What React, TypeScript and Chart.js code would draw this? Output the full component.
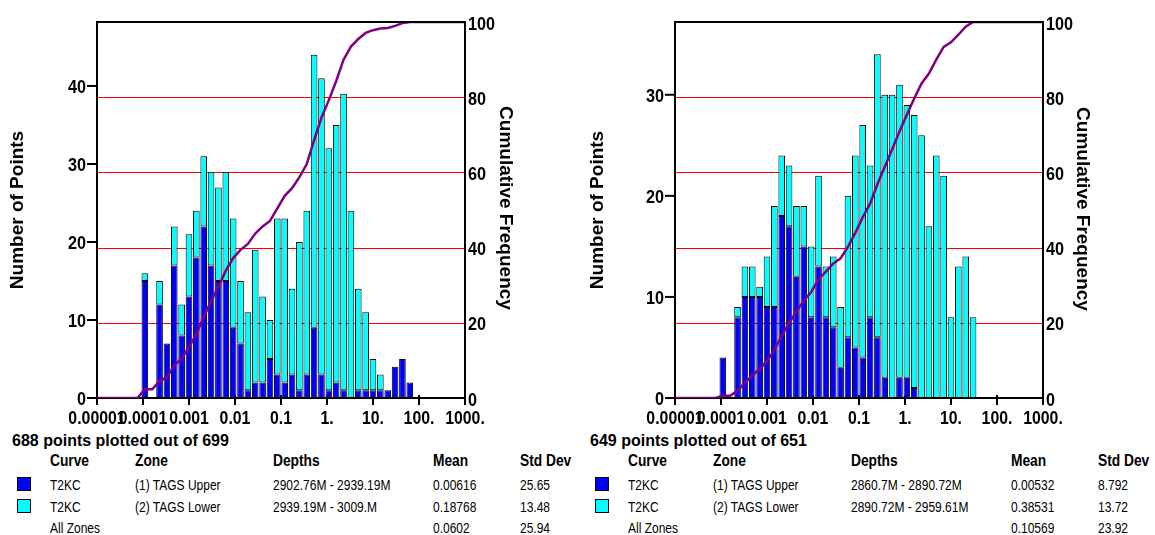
import React, { useEffect, useRef } from "react";
import { Chart, registerables } from "chart.js";

Chart.register(...registerables);

// ---- data ----
const BIN_COUNT = 50;
const X_MIN_EXP = -5;
const X_MAX_EXP = 3;

const xTickExps = [-5, -4, -3, -2, -1, 0, 1, 2, 3];
const xTickLabels = ["0.00001", "0.0001", "0.001", "0.01", "0.1", "1.", "10.", "100.", "1000."];
const cumTicks = [0, 20, 40, 60, 80, 100];
const cumGrid = [20, 40, 60, 80];

const leftCountTicks = [0, 10, 20, 30, 40];
const rightCountTicks = [0, 10, 20, 30];

// counts per log bin (50 bins from 1e-5 to 1e3)
const leftUpper = [
  0, 0, 0, 0, 0, 0, 15, 0, 12, 7,
  17, 8, 13, 18, 22, 17, 15, 15, 9, 7,
  1, 2, 2, 5, 3, 2, 3, 1, 3, 9,
  3, 1, 2, 1, 0, 1, 1, 1, 1, 1,
  4, 5, 2, 0, 0, 0, 0, 0, 0, 0,
];
const leftLower = [
  0, 0, 0, 0, 0, 0, 1, 0, 3, 0,
  5, 4, 8, 6, 9, 12, 12, 14, 14, 8,
  10, 17, 11, 5, 20, 21, 11, 19, 21, 35,
  38, 31, 33, 38, 24, 13, 10, 4, 2, 0,
  0, 0, 0, 0, 0, 0, 0, 0, 0, 0,
];
const rightUpper = [
  0, 0, 0, 0, 0, 0, 4, 0, 8, 10,
  10, 10, 9, 9, 18, 17, 12, 15, 8, 13,
  8, 7, 3, 6, 5, 4, 8, 6, 2, 0,
  2, 2, 1, 0, 0, 0, 0, 0, 0, 0,
  0, 0, 0, 0, 0, 0, 0, 0, 0, 0,
];
const rightLower = [
  0, 0, 0, 0, 0, 0, 0, 0, 1, 3,
  3, 1, 5, 10, 6, 6, 7, 4, 7, 9,
  5, 7, 6, 14, 19, 23, 15, 28, 28, 30,
  29, 27, 27, 26, 17, 24, 22, 8, 13, 14,
  8, 0, 0, 0, 0, 0, 0, 0, 0, 0,
];

const tableHeaders = ["Curve", "Zone", "Depths", "Mean", "Std Dev"];
const leftRows = [
  ["T2KC", "(1) TAGS Upper", "2902.76M - 2939.19M", "0.00616", "25.65"],
  ["T2KC", "(2) TAGS Lower", "2939.19M - 3009.M", "0.18768", "13.48"],
  ["All Zones", "", "", "0.0602", "25.94"],
];
const rightRows = [
  ["T2KC", "(1) TAGS Upper", "2860.7M - 2890.72M", "0.00532", "8.792"],
  ["T2KC", "(2) TAGS Lower", "2890.72M - 2959.61M", "0.38531", "13.72"],
  ["All Zones", "", "", "0.10569", "23.92"],
];
const leftSummary = "688 points plotted out of 699";
const rightSummary = "649 points plotted out of 651";
const rowSwatches = ["#0000FF", "#00FFFF", null];

// ---- styles / layout ----
const UPPER_COLOR = "#0000FF";
const LOWER_COLOR = "#00FFFF";
const CUM_COLOR = "#800080";
const FONT = '"Liberation Sans", Arial, Helvetica, sans-serif';
const CW = 578;
const CH = 430;
const AREA = { left: 97, right: 465, top: 22, bottom: 398 };

type PanelProps = {
  offsetX: number;
  upper: number[];
  lower: number[];
  yMax: number;
  countTicks: number[];
  leftTitleX: number;
  leftTitleY: number;
  rightTitleX: number;
  rightTitleY: number;
};

function drawScaled(ctx: CanvasRenderingContext2D, text: string, x: number, y: number, align: CanvasTextAlign, sx: number) {
  ctx.save();
  ctx.translate(x, y);
  ctx.scale(sx, 1);
  ctx.textAlign = align;
  ctx.fillText(text, 0, 0);
  ctx.restore();
}

function HistPanel(p: PanelProps) {
  const ref = useRef<HTMLCanvasElement>(null);
  useEffect(() => {
    const canvas = ref.current;
    if (!canvas) return;
    const binW = (X_MAX_EXP - X_MIN_EXP) / BIN_COUNT;
    const centers = p.upper.map((_, i) => X_MIN_EXP + (i + 0.5) * binW);
    const total = p.upper.reduce((s, v, i) => s + v + p.lower[i], 0);
    let run = 0;
    const cum = p.upper.map((v, i) => {
      run += v + p.lower[i];
      return { x: centers[i], y: (run / total) * 100 };
    });
    const linePts = [{ x: X_MIN_EXP, y: 0 }, ...cum, { x: X_MAX_EXP, y: cum[cum.length - 1].y }];

    const plugin = {
      id: "frameAndLabels",
      beforeDatasetsDraw(chart: any) {
        const { ctx, chartArea: a, scales } = chart;
        ctx.save();
        ctx.strokeStyle = "#FF0000";
        ctx.lineWidth = 1;
        for (const v of cumGrid) {
          const y = Math.round(scales.y2.getPixelForValue(v)) + 0.5;
          ctx.beginPath();
          ctx.moveTo(a.left, y);
          ctx.lineTo(a.right, y);
          ctx.stroke();
        }
        ctx.strokeStyle = "#000";
        ctx.lineWidth = 2;
        ctx.beginPath();
        ctx.moveTo(a.left, a.top);
        ctx.lineTo(a.left, a.bottom);
        ctx.lineTo(a.right, a.bottom);
        ctx.stroke();
        for (const e of xTickExps) {
          const x = scales.x.getPixelForValue(e);
          ctx.beginPath();
          ctx.moveTo(x, a.bottom - 3);
          ctx.lineTo(x, a.bottom + 7);
          ctx.stroke();
        }
        for (const v of p.countTicks) {
          const y = scales.y.getPixelForValue(v);
          ctx.beginPath();
          ctx.moveTo(a.left - 10, y);
          ctx.lineTo(a.left, y);
          ctx.stroke();
        }
        ctx.restore();
      },
      afterDatasetsDraw(chart: any) {
        const { ctx, chartArea: a, scales } = chart;
        ctx.save();
        ctx.strokeStyle = "#000";
        ctx.lineWidth = 2;
        ctx.beginPath();
        ctx.moveTo(a.left - 1, a.top);
        ctx.lineTo(a.right, a.top);
        ctx.lineTo(a.right, a.bottom + 7);
        ctx.stroke();

        ctx.fillStyle = "#000";
        ctx.textBaseline = "alphabetic";
        ctx.font = `bold 18px ${FONT}`;
        xTickExps.forEach((e, i) => {
          drawScaled(ctx, xTickLabels[i], scales.x.getPixelForValue(e), 424, "center", 0.88);
        });
        for (const v of p.countTicks) {
          drawScaled(ctx, String(v), a.left - 11, scales.y.getPixelForValue(v) + 7, "right", 0.9);
        }
        for (const v of cumTicks) {
          drawScaled(ctx, String(v), a.right + 3, scales.y2.getPixelForValue(v) + 7.5, "left", 0.9);
        }
        ctx.font = `bold 19px ${FONT}`;
        ctx.textAlign = "center";
        ctx.textBaseline = "middle";
        ctx.save();
        ctx.translate(p.leftTitleX, p.leftTitleY);
        ctx.rotate(-Math.PI / 2);
        ctx.fillText("Number of Points", 0, 0);
        ctx.restore();
        ctx.save();
        ctx.translate(p.rightTitleX, p.rightTitleY);
        ctx.rotate(Math.PI / 2);
        ctx.fillText("Cumulative Frequency", 0, 0);
        ctx.restore();
        ctx.restore();
      },
    };

    const barCommon = {
      borderColor: "#000000",
      borderWidth: 1,
      borderSkipped: false,
      barPercentage: 0.9,
      categoryPercentage: 1,
      xAxisID: "x",
      yAxisID: "y",
      stack: "zones",
    };

    const chart = new Chart(canvas, {
      type: "bar",
      data: {
        datasets: [
          {
            ...barCommon,
            type: "bar",
            label: "(1) TAGS Upper",
            data: p.upper.map((v, i) => ({ x: centers[i], y: v > 0 ? v : null })),
            backgroundColor: UPPER_COLOR,
            order: 1,
          } as any,
          {
            ...barCommon,
            type: "bar",
            label: "(2) TAGS Lower",
            data: p.lower.map((v, i) => ({ x: centers[i], y: v > 0 ? v : null })),
            backgroundColor: LOWER_COLOR,
            order: 2,
          } as any,
          {
            type: "line",
            label: "Cumulative",
            data: linePts,
            borderColor: CUM_COLOR,
            borderWidth: 2.5,
            pointRadius: 0,
            tension: 0,
            fill: false,
            xAxisID: "x",
            yAxisID: "y2",
            order: 0,
          } as any,
        ],
      },
      options: {
        animation: false,
        responsive: false,
        devicePixelRatio: 1,
        events: [],
        layout: {
          padding: { left: AREA.left, right: CW - AREA.right, top: AREA.top, bottom: CH - AREA.bottom },
        },
        plugins: { legend: { display: false }, tooltip: { enabled: false }, title: { display: false } },
        scales: {
          x: { type: "linear", min: X_MIN_EXP, max: X_MAX_EXP, offset: false, stacked: true, display: false },
          y: { type: "linear", min: 0, max: p.yMax, stacked: true, display: false },
          y2: { type: "linear", min: 0, max: 100, display: false, position: "right" },
        },
      } as any,
      plugins: [plugin],
    });
    return () => chart.destroy();
  }, []);
  return (
    <canvas
      ref={ref}
      width={CW}
      height={CH}
      style={{ position: "absolute", left: p.offsetX, top: 0, width: CW, height: CH }}
    />
  );
}

const COLS = [50, 135, 273, 433, 520];
const ROW_Y = [484, 506, 527];

function Table({ offsetX, summary, rows }: { offsetX: number; summary: string; rows: string[][] }) {
  const base: React.CSSProperties = {
    position: "absolute",
    whiteSpace: "nowrap",
    fontFamily: FONT,
    color: "#000",
    transformOrigin: "left center",
  };
  return (
    <>
      <div
        style={{ ...base, left: offsetX + 12, top: 441 - 7.8, fontSize: 16, lineHeight: "16px", fontWeight: "bold" }}
      >
        {summary}
      </div>
      {tableHeaders.map((h, i) => (
        <div
          key={"h" + i}
          style={{
            ...base,
            left: offsetX + COLS[i],
            top: 461 - 7.8,
            fontSize: 16,
            lineHeight: "16px",
            fontWeight: "bold",
            transform: "scaleX(0.86)",
          }}
        >
          {h}
        </div>
      ))}
      {rows.map((r, ri) => (
        <React.Fragment key={"r" + ri}>
          {rowSwatches[ri] && (
            <div
              style={{
                position: "absolute",
                left: offsetX + 17,
                top: ROW_Y[ri] - 7,
                width: 12,
                height: 12,
                background: rowSwatches[ri] as string,
                border: "1px solid #000",
              }}
            />
          )}
          {r.map((c, ci) =>
            c ? (
              <div
                key={ci}
                style={{
                  ...base,
                  left: offsetX + COLS[ci],
                  top: ROW_Y[ri] - 7.4,
                  fontSize: 15,
                  lineHeight: "15px",
                  transform: "scaleX(0.8)",
                }}
              >
                {c}
              </div>
            ) : null
          )}
        </React.Fragment>
      ))}
    </>
  );
}

export default function App() {
  return (
    <div
      style={{
        position: "absolute",
        left: 0,
        top: 0,
        width: 1155,
        height: 535,
        background: "#fff",
        overflow: "hidden",
      }}
    >
      <HistPanel
        offsetX={0}
        upper={leftUpper}
        lower={leftLower}
        yMax={48.2}
        countTicks={leftCountTicks}
        leftTitleX={18}
        leftTitleY={210}
        rightTitleX={505}
        rightTitleY={208}
      />
      <HistPanel
        offsetX={578}
        upper={rightUpper}
        lower={rightLower}
        yMax={37.2}
        countTicks={rightCountTicks}
        leftTitleX={20}
        leftTitleY={210}
        rightTitleX={504}
        rightTitleY={209}
      />
      <Table offsetX={0} summary={leftSummary} rows={leftRows} />
      <Table offsetX={578} summary={rightSummary} rows={rightRows} />
    </div>
  );
}
